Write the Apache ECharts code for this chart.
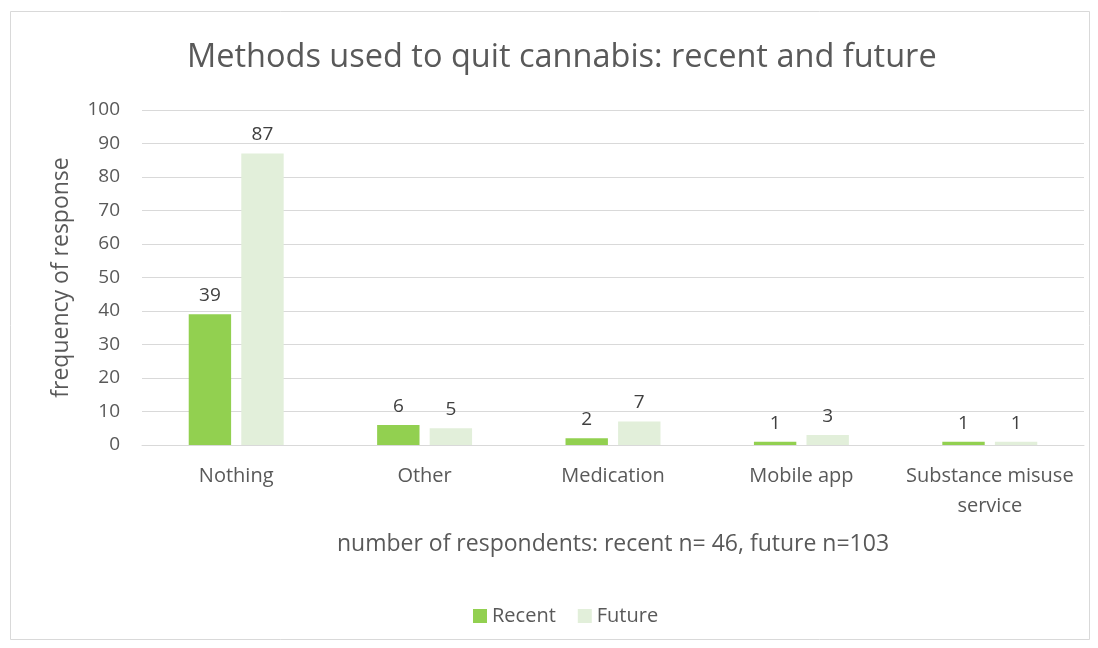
<!DOCTYPE html>
<html><head><meta charset="utf-8">
<script src="https://cdn.jsdelivr.net/npm/echarts@6/dist/echarts.min.js"></script>
<style>html,body{margin:0;padding:0;background:#fff}#c{width:1098px;height:648px}</style>
</head><body><div id="c"></div>
<script>
const categories = ['Nothing', 'Other', 'Medication', 'Mobile app', 'Substance misuse\nservice'];
const recent = [39, 6, 2, 1, 1];
const future = [87, 5, 7, 3, 1];
const yTicks = [0, 10, 20, 30, 40, 50, 60, 70, 80, 90, 100];
const titleText = 'Methods used to quit cannabis: recent and future';
const yName = 'frequency of response';
const xName = 'number of respondents: recent n= 46, future n=103';

const FONT = 'Open Sans';
const TXT = '#595959';
const chart = echarts.init(document.getElementById('c'), null, {renderer: 'canvas'});
chart.setOption({
  animation: false,
  backgroundColor: '#fff',
  textStyle: {fontFamily: FONT},
  graphic: [{type: 'rect', shape: {x: 10.5, y: 11.5, width: 1079, height: 628}, style: {fill: 'none', stroke: '#d9d9d9', lineWidth: 1}}],
  title: {text: titleText, left: 182, top: 36, textStyle: {fontFamily: FONT, fontSize: 32.5, fontWeight: 'normal', color: TXT}},
  legend: {bottom: 17, left: 468, itemWidth: 14, itemHeight: 14, itemGap: 22, icon: 'rect',
    textStyle: {fontFamily: FONT, fontSize: 20, color: TXT}},
  grid: {left: 142, right: 14, top: 110, bottom: 203},
  xAxis: {type: 'category', data: categories,
    name: xName, nameLocation: 'middle', nameGap: 88,
    nameTextStyle: {fontFamily: FONT, fontSize: 23, color: TXT},
    axisLine: {lineStyle: {color: '#d9d9d9'}}, axisTick: {show: false},
    axisLabel: {fontFamily: FONT, fontSize: 20, color: TXT, margin: 16, lineHeight: 30, interval: 0}},
  yAxis: {type: 'value', min: 0, max: 100, interval: 10,
    name: yName, nameLocation: 'middle', nameGap: 69,
    nameTextStyle: {fontFamily: FONT, fontSize: 23, color: TXT},
    axisLine: {show: false}, axisTick: {show: false},
    splitLine: {lineStyle: {color: '#d9d9d9', width: 1}},
    axisLabel: {fontFamily: FONT, fontSize: 19, color: TXT, margin: 22,
      formatter: v => yTicks.includes(v) ? String(v) : ''}},
  series: [
    {name: 'Recent', type: 'bar', data: recent, barWidth: '22.5%', barGap: '24%',
      itemStyle: {color: '#92D050'},
      label: {show: true, position: 'top', distance: 9, fontFamily: FONT, fontSize: 19, color: '#404040'}},
    {name: 'Future', type: 'bar', data: future, barWidth: '22.5%',
      itemStyle: {color: '#E2EFDA'},
      label: {show: true, position: 'top', distance: 9, fontFamily: FONT, fontSize: 19, color: '#404040'}}
  ]
});
</script></body></html>
